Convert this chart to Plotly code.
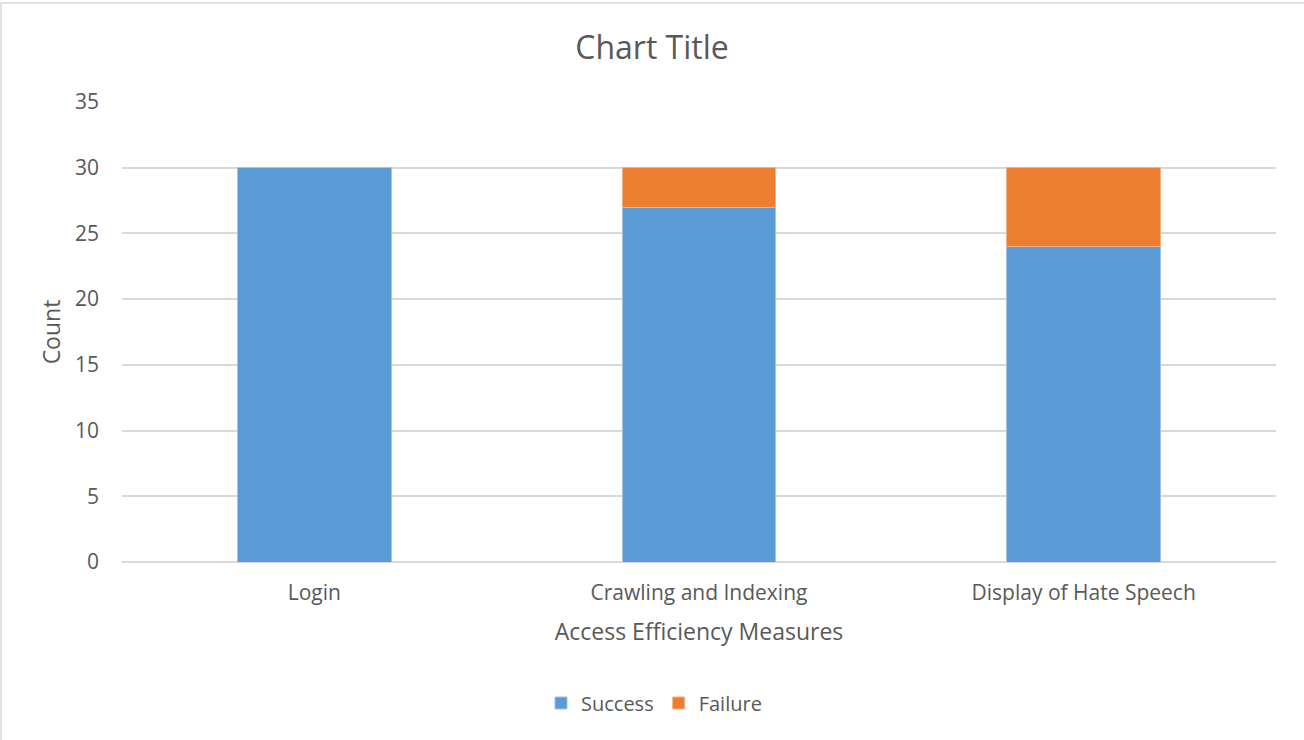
import plotly.graph_objects as go

categories = ["Login", "Crawling and Indexing", "Display of Hate Speech"]
success = [30, 27, 24]
failure = [0, 3, 6]
y_ticks = [0, 5, 10, 15, 20, 25, 30, 35]

FONT = "Open Sans, Lato, DejaVu Sans, sans-serif"
TEXT = "#595959"
GRID = "#d9d9d9"

fig = go.Figure()
fig.add_trace(go.Bar(
    name="Success", x=categories, y=success,
    marker=dict(color="#5b9bd5", line=dict(color="#9dc3e6", width=1)),
))
fig.add_trace(go.Bar(
    name="Failure", x=categories, y=failure,
    marker=dict(color="#ed7d31", line=dict(color="#f4b183", width=1)),
))

fig.update_layout(
    barmode="stack",
    bargap=0.6,
    width=1304, height=740,
    paper_bgcolor="white", plot_bgcolor="white",
    margin=dict(l=122, r=28, t=102, b=178),
    font=dict(family=FONT, color=TEXT, size=21),
    title=dict(text="Chart Title", x=0.5, xref="container", xanchor="center",
               y=1 - 48 / 740, yref="container", yanchor="middle",
               font=dict(size=32, color=TEXT, family=FONT)),
    showlegend=True,
    legend=dict(orientation="h", x=(654 - 122) / 1154, xanchor="center",
                y=-(703 - 562) / 460, yanchor="middle",
                font=dict(size=20, color=TEXT), traceorder="normal",
                itemwidth=30),
    shapes=[dict(type="rect", xref="paper", yref="paper",
                 x0=-121 / 1154, x1=1.2, y0=-0.6, y1=1 + 99 / 460,
                 line=dict(color="#d9d9d9", width=1.5), layer="below")],
)

fig.update_xaxes(
    title=dict(text="Access Efficiency Measures", font=dict(size=23, color=TEXT), standoff=18),
    tickfont=dict(size=21, color=TEXT),
    showline=False, showgrid=False, ticks="", ticklabelstandoff=16,
)
fig.update_yaxes(
    title=dict(text="Count", font=dict(size=23, color=TEXT), standoff=7),
    range=[0, 35], tickvals=y_ticks, ticktext=[str(v) for v in y_ticks],
    tickfont=dict(size=21, color=TEXT),
    showgrid=True, gridcolor=GRID, gridwidth=1.5,
    zeroline=True, zerolinecolor=GRID, zerolinewidth=1.5,
    showline=False, ticks="", ticklabelstandoff=22,
)

fig.write_html("out.html")
